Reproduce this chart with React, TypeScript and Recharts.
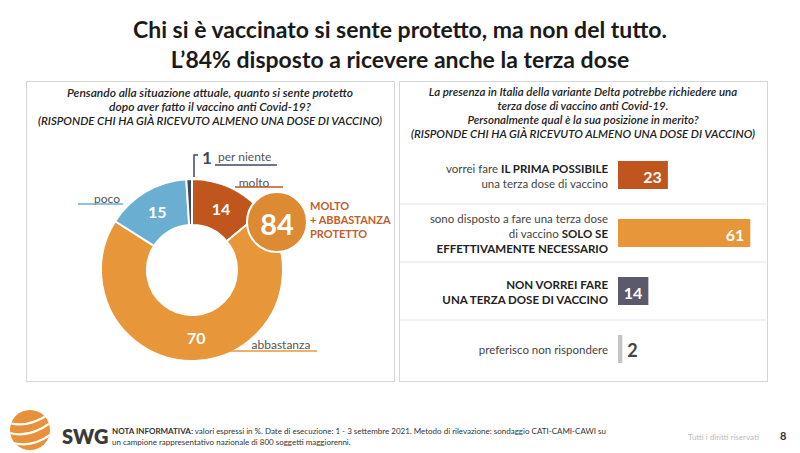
import React from "react";
import { PieChart, Pie, Cell, BarChart, Bar, XAxis, YAxis, LabelList } from "recharts";

const FONT = "Lato, 'Open Sans', sans-serif";

// left: how protected do you feel
const protectionNames = ["molto", "abbastanza", "poco", "per niente"];
const protectionValues = [14, 70, 15, 1];
const protectionColors = ["#c0561e", "#e8963a", "#6aaed2", "#3b4766"];
const protectedTotal = 84;

// right: third dose
const doseCategories = ["prima possibile", "solo se necessario", "non vorrei", "non risponde"];
const doseValues = [23, 61, 14, 2];
const doseColors = ["#c0561e", "#e8963a", "#5b5a6c", "#c4c4c4"];

type Seg = { t: string; b?: boolean };
const doseLabelLines: Seg[][][] = [
  [[{ t: "vorrei fare " }, { t: "IL PRIMA POSSIBILE", b: true }], [{ t: "una terza dose di vaccino" }]],
  [
    [{ t: "sono disposto a fare una terza dose" }],
    [{ t: "di vaccino " }, { t: "SOLO SE", b: true }],
    [{ t: "EFFETTIVAMENTE NECESSARIO", b: true }],
  ],
  [[{ t: "NON VORREI FARE", b: true }], [{ t: "UNA TERZA DOSE DI VACCINO", b: true }]],
  [[{ t: "preferisco non rispondere" }]],
];

const pieData = protectionNames.map((name, i) => ({ name, value: protectionValues[i] }));
const barData = doseCategories.map((name, i) => ({ name, value: doseValues[i] }));

// placement of outside labels, relative to the donut centre
const outside: Record<string, { tx: number; ty: number; anchor: string; u1: number; u2: number; uy: number; line: string }> = {
  molto: { tx: 62, ty: -88, anchor: "middle", u1: 43, u2: 91, uy: -83, line: "#c0561e" },
  poco: { tx: -85, ty: -72, anchor: "middle", u1: -114, u2: -69, uy: -66, line: "#6aaed2" },
  abbastanza: { tx: 89, ty: 74, anchor: "middle", u1: 38, u2: 125, uy: 81, line: "#e8963a" },
  "per niente": { tx: 26, ty: -114, anchor: "start", u1: 23, u2: 85, uy: -105, line: "#3b4766" },
};

const RAD = Math.PI / 180;

function renderPieLabel(props: any) {
  const { cx, cy, midAngle, innerRadius, outerRadius, value, name } = props;
  const r = (innerRadius + outerRadius) / 2;
  const x = cx + r * Math.cos(-midAngle * RAD);
  const y = cy + r * Math.sin(-midAngle * RAD);
  const o = outside[name];
  return (
    <g>
      {value > 2 && (
        <text x={x} y={y} textAnchor="middle" dominantBaseline="central" fill="#fff" fontWeight={700} fontSize={16} fontFamily={FONT}>
          {value}
        </text>
      )}
      {o && (
        <>
          <text x={cx + o.tx} y={cy + o.ty} textAnchor={o.anchor as any} dominantBaseline="central" fill="#555" fontSize={12} fontFamily={FONT}>
            {name}
          </text>
          <line x1={cx + o.u1} x2={cx + o.u2} y1={cy + o.uy} y2={cy + o.uy} stroke={o.line} strokeWidth={1.5} />
        </>
      )}
      {name === "per niente" && (
        <>
          <polyline points={`${cx + 2},${cy - 93} ${cx + 2},${cy - 115} ${cx + 6},${cy - 115}`} fill="none" stroke="#3b4766" strokeWidth={1.5} />
          <text x={cx + 15} y={cy - 113} textAnchor="middle" dominantBaseline="central" fill="#3b4766" fontWeight={700} fontSize={17} fontFamily={FONT}>
            {value}
          </text>
        </>
      )}
      {name === "molto" && (
        <>
          <circle cx={cx + 85} cy={cy - 48} r={30} fill="#dd8a35" stroke="#fff" strokeWidth={2} />
          <text x={cx + 85} y={cy - 47} textAnchor="middle" dominantBaseline="central" fill="#fff" fontWeight={700} fontSize={29} fontFamily={FONT}>
            {protectedTotal}
          </text>
          {["MOLTO", "+ ABBASTANZA", "PROTETTO"].map((s, i) => (
            <text key={s} x={cx + 118} y={cy - 65 + i * 14} dominantBaseline="central" fill="#c0602a" fontWeight={700} fontSize={11} fontFamily={FONT}>
              {s}
            </text>
          ))}
        </>
      )}
    </g>
  );
}

function DoseTick(props: any) {
  const { x, y, index } = props;
  const lines = doseLabelLines[index] || [];
  const lh = 15;
  const start = y - ((lines.length - 1) * lh) / 2;
  return (
    <g>
      {index < doseLabelLines.length - 1 && <line x1={-1} x2={367} y1={y + 29} y2={y + 29} stroke="#e4e4e4" strokeWidth={1} />}
      {lines.map((segs, li) => (
        <text key={li} x={x - 2} y={start + li * lh} textAnchor="end" dominantBaseline="central" fontSize={11.5} fill="#333" fontFamily={FONT}>
          {segs.map((s, si) => (
            <tspan key={si} fontWeight={s.b ? 700 : 400} fill={s.b ? "#222" : "#444"}>
              {s.t}
            </tspan>
          ))}
        </text>
      ))}
    </g>
  );
}

function BarValue(props: any) {
  const { x, y, width, height, value } = props;
  const inside = value > 5;
  return (
    <text
      x={inside ? x + width - 6 : x + width + 5}
      y={y + height / 2 + 1}
      textAnchor={inside ? "end" : "start"}
      dominantBaseline="central"
      fill={inside ? "#fff" : "#444"}
      fontWeight={700}
      fontSize={inside ? 16 : 18}
      fontFamily={FONT}
    >
      {value}
    </text>
  );
}

const sub: React.CSSProperties = {
  position: "absolute",
  textAlign: "center",
  fontStyle: "italic",
  fontWeight: 600,
  lineHeight: "14px",
  color: "#222",
};

export default function App() {
  return (
    <div style={{ position: "absolute", left: 0, top: 0, width: 800, height: 453, background: "#fff", fontFamily: FONT, overflow: "hidden" }}>
      <div style={{ position: "absolute", top: 14, left: 0, width: 800, textAlign: "center", fontWeight: 700, fontSize: 23, lineHeight: "30px", color: "#1a1a1a" }}>
        Chi si è vaccinato si sente protetto, ma non del tutto.
        <br />
        L’84% disposto a ricevere anche la terza dose
      </div>

      <div style={{ position: "absolute", left: 26, top: 81, width: 367, height: 299, border: "1px solid #d6d6d6" }} />
      <div style={{ position: "absolute", left: 399, top: 81, width: 367, height: 299, border: "1px solid #d6d6d6" }} />

      <div style={{ ...sub, left: 27, top: 86, width: 366, fontSize: 12 }}>
        Pensando alla situazione attuale, quanto si sente protetto
        <br />
        dopo aver fatto il vaccino anti Covid-19?
        <br />
        <span style={{ fontSize: 11.5 }}>(RISPONDE CHI HA GIÀ RICEVUTO ALMENO UNA DOSE DI VACCINO)</span>
      </div>
      <div style={{ ...sub, left: 400, top: 85, width: 366, fontSize: 11.5 }}>
        La presenza in Italia della variante Delta potrebbe richiedere una
        <br />
        terza dose di vaccino anti Covid-19.
        <br />
        Personalmente qual è la sua posizione in merito?
        <br />
        (RISPONDE CHI HA GIÀ RICEVUTO ALMENO UNA DOSE DI VACCINO)
      </div>

      <div style={{ position: "absolute", left: 27, top: 130 }}>
        <PieChart width={366} height={249}>
          <Pie
            data={pieData}
            dataKey="value"
            nameKey="name"
            cx={160}
            cy={135}
            innerRadius={45}
            outerRadius={91}
            startAngle={90}
            endAngle={-270}
            stroke="#fff"
            strokeWidth={2}
            label={renderPieLabel}
            labelLine={false}
            isAnimationActive={false}
          >
            {pieData.map((d, i) => (
              <Cell key={d.name} fill={protectionColors[i]} />
            ))}
          </Pie>
        </PieChart>
      </div>

      <div style={{ position: "absolute", left: 400, top: 146 }}>
        <BarChart width={366} height={232} data={barData} layout="vertical" margin={{ top: 0, right: 7, bottom: 0, left: 0 }}>
          <XAxis type="number" domain={[0, 65]} hide />
          <YAxis type="category" dataKey="name" width={218} axisLine={false} tickLine={false} tick={<DoseTick />} interval={0} />
          <Bar dataKey="value" barSize={28} isAnimationActive={false}>
            {barData.map((d, i) => (
              <Cell key={d.name} fill={doseColors[i]} />
            ))}
            <LabelList dataKey="value" content={<BarValue />} />
          </Bar>
        </BarChart>
      </div>

      <svg style={{ position: "absolute", left: 8, top: 408 }} width={50} height={44}>
        <defs>
          <clipPath id="logo">
            <circle cx={22} cy={22} r={20} />
          </clipPath>
        </defs>
        <circle cx={22} cy={22} r={20} fill="#e8903a" />
        <g clipPath="url(#logo)" stroke="#fff" strokeWidth={2.2} fill="none">
          <path d="M-2 14 Q20 22 44 4" />
          <path d="M-2 24 Q22 32 46 12" />
          <path d="M2 34 Q26 42 48 22" />
        </g>
      </svg>
      <div style={{ position: "absolute", left: 62, top: 424, fontWeight: 800, fontSize: 20, color: "#3a3a3a" }}>SWG</div>
      <div style={{ position: "absolute", left: 112, top: 426, fontSize: 8, lineHeight: "11px", color: "#333", width: 520 }}>
        <b>NOTA INFORMATIVA:</b> valori espressi in %. Date di esecuzione: 1 - 3 settembre 2021. Metodo di rilevazione: sondaggio CATI-CAMI-CAWI su
        <br />
        un campione rappresentativo nazionale di 800 soggetti maggiorenni.
      </div>
      <div style={{ position: "absolute", left: 688, top: 432, fontSize: 8, color: "#bbb" }}>Tutti i diritti riservati</div>
      <div style={{ position: "absolute", left: 780, top: 429, fontSize: 11, fontWeight: 700, color: "#333" }}>8</div>
    </div>
  );
}
